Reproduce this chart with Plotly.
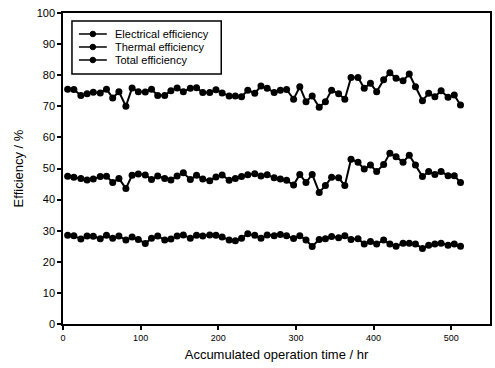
import plotly.graph_objects as go

time_hr = [6, 14, 23, 31, 39, 48, 56, 64, 72, 81, 89, 97, 106, 114, 122, 131, 139, 147, 155, 164,
           172, 180, 189, 197, 205, 214, 222, 230, 238, 247, 255, 263, 272, 280, 288, 297, 305, 313,
           321, 330, 338, 346, 355, 363, 371, 380, 388, 396, 404, 413, 421, 429, 438, 446, 454, 463,
           471, 479, 487, 496, 504, 512]

electrical = [28.5, 28.4, 27.3, 28.3, 28.2, 27.4, 28.5, 27.6, 28.3, 27.0, 28.0, 27.2, 25.9, 27.6,
              28.3, 27.0, 27.3, 28.3, 28.6, 27.6, 28.5, 28.3, 28.6, 28.5, 28.0, 27.0, 26.8, 27.6,
              29.0, 28.5, 27.6, 28.6, 28.4, 28.8, 28.4, 27.5, 28.4, 27.0, 24.9, 27.2, 27.4, 28.1,
              27.7, 28.4, 27.2, 27.4, 25.7, 26.5, 25.7, 27.0, 25.7, 25.0, 26.0, 26.0, 25.7, 24.3,
              25.3, 25.7, 26.0, 25.3, 25.7, 25.0]

thermal = [47.5, 47.2, 46.8, 46.3, 46.6, 47.4, 47.5, 45.5, 46.8, 43.6, 47.8, 48.2, 47.9, 46.5,
           47.6, 46.8, 46.3, 47.6, 48.6, 46.5, 47.8, 46.6, 46.1, 47.3, 47.9, 46.2, 46.8, 47.4,
           48.0, 48.3, 47.6, 48.0, 47.0, 46.6, 46.2, 44.7, 48.1, 45.5, 48.1, 42.3, 44.5, 47.2,
           47.0, 44.5, 53.0, 52.0, 49.8, 51.1, 49.0, 51.3, 54.9, 53.8, 52.0, 54.3, 51.1, 47.4,
           49.0, 48.1, 49.0, 47.7, 47.7, 45.5]

total = [75.5, 75.4, 73.5, 74.0, 74.5, 74.3, 75.5, 72.7, 74.7, 70.0, 75.9, 74.7, 74.6, 75.5,
         73.5, 73.5, 75.0, 75.9, 74.7, 75.8, 76.0, 74.4, 74.4, 75.3, 74.3, 73.3, 73.3, 73.1,
         75.2, 74.2, 76.5, 75.8, 74.4, 75.2, 75.4, 72.3, 76.3, 71.5, 73.3, 69.7, 71.5, 75.2,
         74.0, 72.3, 79.3, 79.3, 75.8, 77.4, 74.7, 78.5, 80.8, 79.0, 78.2, 80.4, 76.3, 71.8,
         74.2, 73.1, 75.0, 72.9, 73.6, 70.4]

series_names = ["Electrical efficiency", "Thermal efficiency", "Total efficiency"]
x_ticks = [0, 100, 200, 300, 400, 500]
y_ticks = [0, 10, 20, 30, 40, 50, 60, 70, 80, 90, 100]

FONT = "Arial, Liberation Sans, sans-serif"

fig = go.Figure()
for name, vals in zip(series_names, [electrical, thermal, total]):
    fig.add_trace(go.Scatter(
        x=time_hr, y=vals, name=name, mode="lines+markers",
        line=dict(color="black", width=2),
        marker=dict(color="black", size=7, symbol="circle"),
        showlegend=False,
    ))

# Manual compact legend (paper coordinates)
box_x0, box_x1, box_y0, box_y1 = 0.021, 0.3706, 0.8039, 0.9743
row_y = [0.9325, 0.8907, 0.8489]
line_x0, line_x1, mark_x, text_x = 0.0373, 0.1026, 0.0699, 0.1166
rx, ry = 0.0065, 0.009
shapes = [dict(type="rect", xref="paper", yref="paper", x0=box_x0, x1=box_x1, y0=box_y0, y1=box_y1,
               line=dict(color="black", width=1.5), fillcolor="white", layer="above")]
annotations = []
for name, yy in zip(series_names, row_y):
    shapes.append(dict(type="line", xref="paper", yref="paper", x0=line_x0, x1=line_x1, y0=yy, y1=yy,
                       line=dict(color="black", width=1.5), layer="above"))
    shapes.append(dict(type="circle", xref="paper", yref="paper", x0=mark_x - rx, x1=mark_x + rx,
                       y0=yy - ry, y1=yy + ry, line=dict(color="black", width=1),
                       fillcolor="black", layer="above"))
    annotations.append(dict(xref="paper", yref="paper", x=text_x, y=yy, text=name, showarrow=False,
                            xanchor="left", yanchor="middle",
                            font=dict(size=11, family=FONT, color="black")))

fig.update_layout(
    width=495, height=368,
    margin=dict(l=63, r=3, t=13, b=44),
    paper_bgcolor="white", plot_bgcolor="white",
    font=dict(family=FONT, color="black"),
    showlegend=False,
    shapes=shapes, annotations=annotations,
)
fig.update_xaxes(
    range=[0, 550], tickvals=x_ticks, ticktext=[str(v) for v in x_ticks],
    showgrid=False, zeroline=False, showline=True, linecolor="black", linewidth=1.5,
    mirror=True, ticks="outside", ticklen=4, tickcolor="black", tickwidth=1.5,
    tickfont=dict(size=9, family=FONT, color="black"),
    title=dict(text="Accumulated operation time / hr", font=dict(size=13, family=FONT), standoff=8),
)
fig.update_yaxes(
    range=[0, 100], tickvals=y_ticks,
    showgrid=False, zeroline=False, showline=True, linecolor="black", linewidth=1.5,
    mirror=True, ticks="outside", ticklen=4, tickcolor="black", tickwidth=1.5,
    tickfont=dict(size=11, family=FONT, color="black"),
    title=dict(text="Efficiency / %", font=dict(size=13, family=FONT), standoff=10),
)

fig.write_html("out.html")
